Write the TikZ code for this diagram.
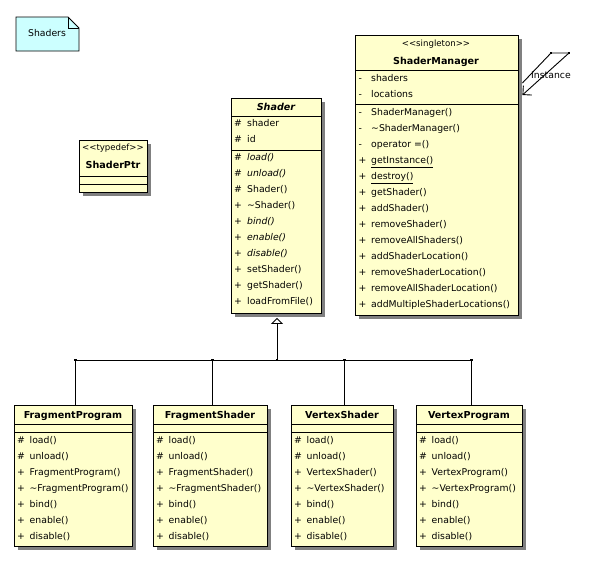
\documentclass[tikz,border=0pt]{standalone}
\usepackage{fontspec}
\setmainfont{DejaVu Sans}
\usetikzlibrary{shadows,arrows.meta}

\definecolor{classyellow}{RGB}{255,255,204}
\definecolor{notecyan}{RGB}{204,255,255}
\definecolor{shadowgrey}{RGB}{128,128,128}

\tikzset{
	classbox/.style={draw, line width=0.9pt, fill=classyellow, anchor=north west, inner sep=0pt,
		drop shadow={shadow xshift=3.5pt, shadow yshift=-3.5pt, fill=shadowgrey, opacity=1}},
	notebox/.style={draw, line width=0.9pt, fill=notecyan},
	member/.style={anchor=west, inner sep=0pt, text height=6.9pt, text depth=2pt, font=\fontsize{9.3}{11}\selectfont},
	classname/.style={inner sep=0pt, text height=6.8pt, text depth=0pt, font=\fontsize{9.6}{11}\selectfont\bfseries},
	stereotype/.style={inner sep=0pt, text height=6.4pt, text depth=1.8pt, font=\fontsize{8.6}{10}\selectfont},
	compartment/.style={line width=0.9pt},
	link/.style={line width=0.9pt},
	junction/.style={fill, inner sep=0pt, minimum size=2.5pt},
}

\begin{document}
\begin{tikzpicture}[x=1pt, y=-1pt]
	\useasboundingbox (0,0) rectangle (593,562);

	% note
	\draw[notebox] (16,17) -- (68,17) -- (79,28) -- (79,51) -- (16,51) -- cycle;
	\draw[link] (68,17) -- (68,28) -- (79,28);
	\node[member, anchor=center] (note) at (47,34) {Shaders};

	% ShaderPtr
	\node[classbox, minimum width=68pt, minimum height=52pt] (ptr) at (79,140) {};
	\node[stereotype] (ptr-st) at (113,148.5) {<{}<typedef>{}>};
	\node[classname] (ptr-name) at (113,165) {ShaderPtr};
	\draw[compartment] (79,176.5) -- (147,176.5);
	\draw[compartment] (79,184.5) -- (147,184.5);

	% Shader
	\node[classbox, minimum width=90pt, minimum height=215pt] (shader) at (231,98) {};
	\node[classname] (shader-name) at (276,107) {\itshape Shader};
	\draw[compartment] (231,116) -- (321,116);
	\draw[compartment] (231,150) -- (321,150);
	\foreach \v/\m [count=\i from 0] in {\#/shader, \#/id}
	{
		\node[member] (shader-av\i) at (234,124.5+16*\i) {\v};
		\node[member] (shader-a\i) at (247,124.5+16*\i) {\m};
	}
	\foreach \v/\m [count=\i from 0] in {\#/\textit{load()}, \#/\textit{unload()}, \#/Shader(), +/\textasciitilde Shader(), +/\textit{bind()}, +/\textit{enable()}, +/\textit{disable()}, +/setShader(), +/getShader(), +/loadFromFile()}
	{
		\node[member] (shader-ov\i) at (234,158.5+16*\i) {\v};
		\node[member] (shader-o\i) at (247,158.5+16*\i) {\m};
	}

	% ShaderManager
	\node[classbox, minimum width=163pt, minimum height=280pt] (manager) at (355,35) {};
	\node[stereotype] (manager-st) at (436,44) {<{}<singleton>{}>};
	\node[classname] (manager-name) at (436,61) {ShaderManager};
	\draw[compartment] (355,70.5) -- (518,70.5);
	\draw[compartment] (355,104.5) -- (518,104.5);
	\foreach \v/\m [count=\i from 0] in {-/shaders, -/locations}
	{
		\node[member] (manager-av\i) at (358.5,79+16*\i) {\v};
		\node[member] (manager-a\i) at (371,79+16*\i) {\m};
	}
	\foreach \v/\m [count=\i from 0] in {-/ShaderManager(), -/\textasciitilde ShaderManager(), -/operator =(), +/\underline{getInstance()}, +/\underline{destroy()}, +/getShader(), +/addShader(), +/removeShader(), +/removeAllShaders(), +/addShaderLocation(), +/removeShaderLocation(), +/removeAllShaderLocation(), +/addMultipleShaderLocations()}
	{
		\node[member] (manager-ov\i) at (358.5,113+16*\i) {\v};
		\node[member] (manager-o\i) at (371,113+16*\i) {\m};
	}

	% self association
	\coordinate (loopA) at (551,53);
	\coordinate (loopB) at (569,53);
	\draw[link] ([xshift=3.5pt, yshift=-48pt]manager.north east) -- (loopA) -- (loopB);
	\draw[link, -{Straight Barb[angle=90:9pt]}] (loopB) -- ([xshift=3.5pt, yshift=-60pt]manager.north east);
	\node[junction] at (loopA) {};
	\node[junction] at (loopB) {};
	\node[member, anchor=center] (instance) at (551,76) {Instance};

	% subclasses
	\coordinate (bus) at (277,360);
	\foreach \cname/\cx/\cw in {FragmentProgram/14/118, FragmentShader/153/114, VertexShader/291/102, VertexProgram/416/106}
	{
		\node[classbox, minimum width=\cw pt, minimum height=141pt] (\cname) at (\cx,405) {};
		\node[classname] (\cname-name) at (\cx+\cw/2,415) {\cname};
		\draw[compartment] (\cx,424) -- (\cx+\cw,424);
		\draw[compartment] (\cx,432) -- (\cx+\cw,432);
		\foreach \v/\m [count=\i from 0] in {\#/load(), \#/unload(), +/\cname(), +/\textasciitilde\cname(), +/bind(), +/enable(), +/disable()}
		{
			\node[member] (\cname-ov\i) at (\cx+3,441+16*\i) {\v};
			\node[member] (\cname-o\i) at (\cx+15.5,441+16*\i) {\m};
		}
		\coordinate (\cname-top) at ([xshift=2pt]\cname.north);
		\draw[link] (\cname-top) |- (bus);
		\node[junction] at (\cname-top |- bus) {};
	}

	% generalization
	\draw[link, -{Triangle[open, length=6pt, width=12pt]}, shorten >=4pt] (bus) -- (bus |- shader.south);
	\node[junction] at (bus) {};
\end{tikzpicture}
\end{document}
